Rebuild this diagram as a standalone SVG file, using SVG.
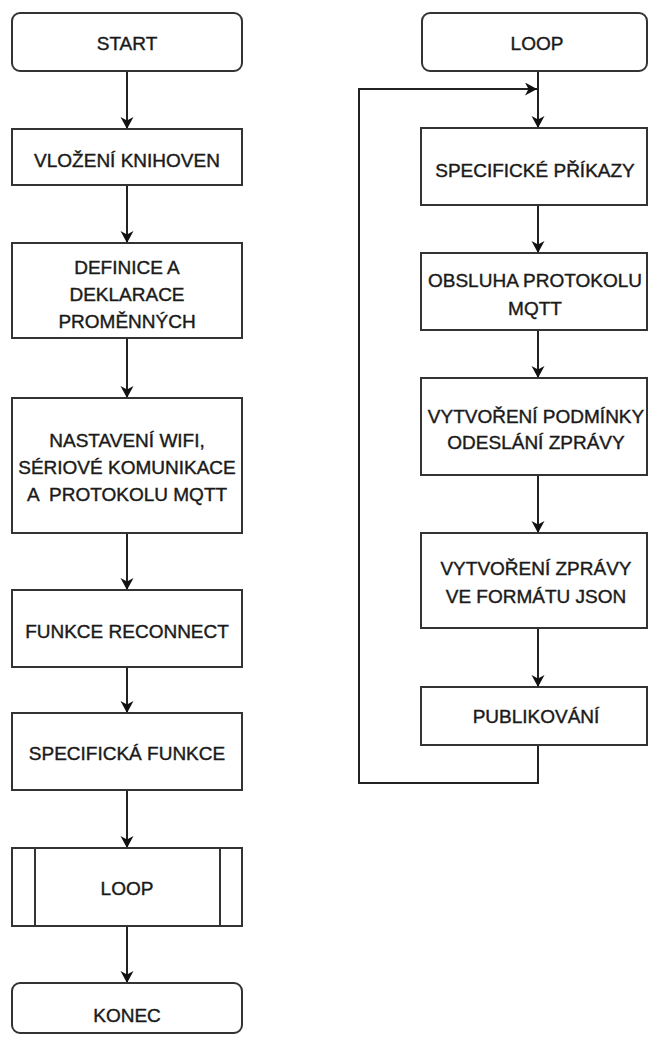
<svg xmlns="http://www.w3.org/2000/svg" width="649" height="1037" viewBox="0 0 649 1037">
<style>
.box{fill:#fff;stroke:#333;stroke-width:2}
.t{font-family:"Liberation Sans",Arial,sans-serif;font-size:19px;fill:#1a1a1a;stroke:#1a1a1a;stroke-width:0.4;text-anchor:middle}
.c{fill:none;stroke:#222;stroke-width:2}
</style>
<defs>
<marker id="ah" markerUnits="userSpaceOnUse" markerWidth="14" markerHeight="14" refX="12" refY="6.5" orient="auto">
<path d="M0,0 L12,6.5 L0,13 L3.5,6.5 z" fill="#111"/>
</marker>
</defs>
<rect width="649" height="1037" fill="#fff"/>
<g id="connectors">
<line class="c" x1="127" y1="71" x2="127" y2="129" marker-end="url(#ah)"/>
<line class="c" x1="127" y1="185" x2="127" y2="243" marker-end="url(#ah)"/>
<line class="c" x1="127" y1="338" x2="127" y2="398" marker-end="url(#ah)"/>
<line class="c" x1="127" y1="533" x2="127" y2="590" marker-end="url(#ah)"/>
<line class="c" x1="127" y1="667" x2="127" y2="713" marker-end="url(#ah)"/>
<line class="c" x1="127" y1="790" x2="127" y2="848" marker-end="url(#ah)"/>
<line class="c" x1="127" y1="926" x2="127" y2="983" marker-end="url(#ah)"/>
<line class="c" x1="538" y1="71" x2="538" y2="128" marker-end="url(#ah)"/>
<line class="c" x1="538" y1="205" x2="538" y2="253" marker-end="url(#ah)"/>
<line class="c" x1="538" y1="330" x2="538" y2="378" marker-end="url(#ah)"/>
<line class="c" x1="538" y1="475" x2="538" y2="533" marker-end="url(#ah)"/>
<line class="c" x1="538" y1="628" x2="538" y2="687" marker-end="url(#ah)"/>
<polyline class="c" points="538,745 538,783 359,783 359,89 537,89" marker-end="url(#ah)"/>
</g>
<g id="start"><rect class="box" x="12" y="13" width="230" height="58" rx="8"/><text class="t" x="127" y="50">START</text></g>
<g id="knihovny"><rect class="box" x="12" y="129" width="230" height="56"/><text class="t" x="127" y="167">VLOŽENÍ KNIHOVEN</text></g>
<g id="definice"><rect class="box" x="12" y="243" width="230" height="95"/><text class="t" x="127" y="274">DEFINICE A</text><text class="t" x="127" y="301">DEKLARACE</text><text class="t" x="127" y="328">PROMĚNNÝCH</text></g>
<g id="nastaveni"><rect class="box" x="12" y="398" width="230" height="135"/><text class="t" x="127" y="447">NASTAVENÍ WIFI,</text><text class="t" x="127" y="474">SÉRIOVÉ KOMUNIKACE</text><text class="t" x="127" y="501" xml:space="preserve">A  PROTOKOLU MQTT</text></g>
<g id="reconnect"><rect class="box" x="12" y="590" width="230" height="77"/><text class="t" x="127" y="638">FUNKCE RECONNECT</text></g>
<g id="specificka"><rect class="box" x="12" y="713" width="230" height="77"/><text class="t" x="127" y="760">SPECIFICKÁ FUNKCE</text></g>
<g id="loop-call"><rect class="box" x="12" y="848" width="230" height="78"/><line class="box" x1="35" y1="848" x2="35" y2="926"/><line class="box" x1="220" y1="848" x2="220" y2="926"/><text class="t" x="127" y="895">LOOP</text></g>
<g id="konec"><rect class="box" x="12" y="983" width="230" height="50" rx="8"/><text class="t" x="127" y="1022">KONEC</text></g>
<g id="loop"><rect class="box" x="422" y="13" width="225" height="58" rx="8"/><text class="t" x="537" y="50">LOOP</text></g>
<g id="prikazy"><rect class="box" x="421" y="128" width="226" height="77"/><text class="t" x="535" y="177">SPECIFICKÉ PŘÍKAZY</text></g>
<g id="mqtt"><rect class="box" x="421" y="253" width="226" height="77"/><text class="t" x="535" y="287">OBSLUHA PROTOKOLU</text><text class="t" x="535" y="315">MQTT</text></g>
<g id="podminka"><rect class="box" x="421" y="378" width="226" height="97"/><text class="t" x="536" y="423">VYTVOŘENÍ PODMÍNKY</text><text class="t" x="536" y="449">ODESLÁNÍ ZPRÁVY</text></g>
<g id="json"><rect class="box" x="421" y="533" width="226" height="95"/><text class="t" x="536" y="575">VYTVOŘENÍ ZPRÁVY</text><text class="t" x="536" y="603">VE FORMÁTU JSON</text></g>
<g id="publikovani"><rect class="box" x="421" y="687" width="226" height="58"/><text class="t" x="536" y="723">PUBLIKOVÁNÍ</text></g>
</svg>
